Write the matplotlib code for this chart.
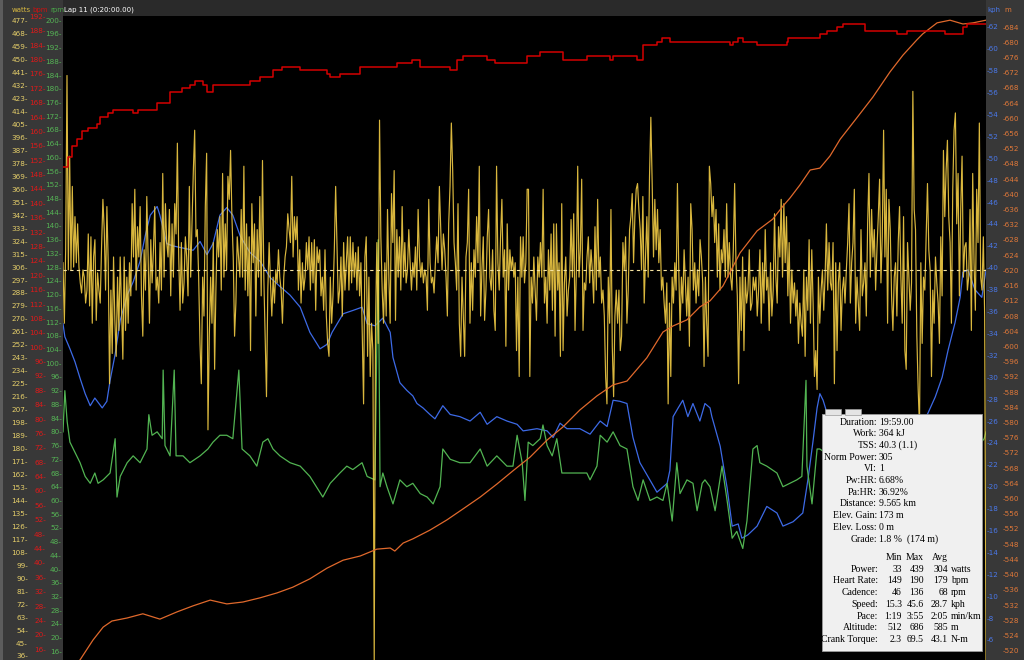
import numpy as np
import matplotlib
matplotlib.use('Agg')
import matplotlib.pyplot as plt
from matplotlib.patches import Rectangle
from matplotlib.ticker import FixedLocator, FuncFormatter

W, H = 1024, 660

# power (watts), one value per sample, evenly spaced over the lap
power = [
    309, 267, 318, 439, 304, 383, 304, 362, 306, 341, 309, 336, 306, 295, 288, 304, 299, 281, 290, 329,
    279, 327, 267, 313, 325, 269, 302, 290, 281, 320, 353, 332, 290, 348, 309, 225, 290, 246, 313, 269,
    244, 299, 262, 313, 276, 242, 313, 262, 299, 267, 309, 286, 350, 313, 360, 290, 334, 313, 348, 286,
    258, 318, 290, 355, 313, 267, 325, 295, 318, 348, 290, 299, 281, 323, 290, 371, 299, 350, 323, 313,
    346, 286, 336, 299, 350, 329, 392, 313, 276, 323, 281, 295, 327, 313, 286, 362, 299, 336, 373, 401,
    327, 332, 299, 253, 225, 299, 272, 348, 385, 193, 258, 299, 267, 323, 235, 292, 332, 313, 341, 290,
    371, 299, 336, 304, 369, 353, 387, 341, 313, 258, 281, 327, 313, 299, 346, 299, 376, 290, 336, 286,
    327, 248, 350, 309, 336, 272, 332, 299, 355, 286, 380, 299, 258, 216, 290, 323, 295, 272, 299, 281,
    304, 295, 318, 299, 290, 267, 299, 313, 320, 343, 332, 323, 369, 313, 341, 325,
    341, 290, 318, 281, 309, 290, 299, 323, 304, 327, 290, 323, 295, 325, 276, 320, 309, 318, 286, 299,
    276, 318, 272, 253, 244, 299, 267, 286, 318, 362, 323, 281, 290, 313, 272, 323, 290, 309, 327, 290,
    327, 295, 323, 299, 316, 290, 320, 286, 309, 258, 211, 313, 327, 244, 299, 230, 267, 248, 33, 267,
    323, 253, 408, 327, 290, 267, 309, 272, 346, 299, 267, 357, 323, 373, 269, 332, 299, 327, 290, 348,
    299, 323, 295, 304, 332, 309, 290, 309, 299, 320, 290, 346, 313, 299, 309, 295, 304, 299, 276, 353,
    309, 295, 299, 288, 309, 327, 309, 362, 332, 304, 329, 318, 299, 272, 336, 362, 406, 373, 323, 309,
    290, 350, 267, 244, 299, 272, 244, 313, 323, 360, 267, 309, 276, 318, 299, 341, 309, 376, 272, 304,
    327, 269, 290, 327, 346, 299, 290, 318, 276, 262, 376, 309, 290, 327, 353, 299, 318, 251, 336, 290,
    318, 304, 313, 299, 309, 248, 299, 230, 327, 299, 327, 295, 309, 360,
    360, 230, 299, 281, 313, 290, 269, 313, 299, 323, 299, 360, 281, 299, 267, 318, 290, 329, 276, 336,
    258, 336, 290, 309, 244, 350, 248, 295, 313, 272, 290, 299, 339, 299, 343, 262, 304, 376, 299, 318,
    367, 262, 295, 290, 313, 327, 295, 318, 304, 281, 334, 290, 353, 299, 313, 281, 290, 272, 230, 211,
    299, 267, 346, 251, 216, 272, 290, 267, 290, 248, 258, 323, 304, 327, 267, 290, 332, 341, 357, 309,
    341, 360, 364, 346, 332, 304, 355, 281, 313, 341, 299, 369, 410, 364, 313, 353, 318, 346, 309, 332,
    290, 299, 281, 267, 295, 211, 281, 230, 299, 281, 309, 290, 364, 304, 262, 299, 281, 318, 295, 272,
    299, 251, 350, 332, 290, 309, 281, 304, 286, 325, 313, 295, 237, 299, 267, 244, 376, 364, 341, 355,
    323, 346, 299, 336, 290, 318, 309, 332, 299, 350, 299, 323, 299, 290, 318, 364, 309, 286, 225, 299,
    262, 313, 248, 299, 281, 290, 318, 276, 281, 299, 290, 299, 272,
    290, 318, 267, 309, 281, 332, 290, 299, 262, 309, 272, 290, 343, 299, 281, 334, 313, 353, 299, 350,
    309, 341, 286, 323, 267, 304, 281, 295, 272, 290, 253, 281, 267, 258, 304, 244, 299, 276, 325, 267,
    318, 281, 230, 248, 221, 299, 267, 290, 304, 276, 299, 336, 290, 323, 295, 290, 323, 225, 309, 248,
    295, 309, 262, 290, 299, 281, 304, 323, 350, 281, 309, 323, 360, 267, 299, 281, 262, 332, 286, 295,
    309, 272, 336, 371, 299, 346, 313, 332, 290, 318, 341, 367, 295, 327, 401, 313, 360, 267, 353, 332,
    286, 262, 299, 309, 272, 323, 348, 299, 267, 341, 248, 235, 323, 299, 276, 295, 428, 346, 332, 258,
    221, 195, 309, 253, 299, 290, 327, 364, 318, 304, 230, 290, 267, 313, 295, 281, 253, 327, 286, 387,
    341, 373, 394, 341, 323, 267, 360, 401, 413, 336, 371, 286, 346, 383, 299, 320, 323, 290, 299, 346,
    262, 371, 309, 276, 360, 323, 406, 299, 290, 327, 272, 33,
]
avg_power = 304

# heart rate (bpm) vs time (min)
hr_t = [0, 0.11, 0.2, 0.3, 0.41, 0.54, 0.74, 0.8, 0.98, 1.08,
        1.5, 1.52, 1.6, 1.63, 1.95, 2.04, 2.1, 2.32, 2.58, 2.75,
        2.86, 3.03, 3.12, 3.25, 3.47, 3.73, 4.05, 4.27, 4.55, 4.75,
        4.92, 5.14, 5.72, 5.79, 6.0, 6.28, 6.44, 7.09, 7.24, 7.56,
        7.74, 8.23, 8.39, 8.54, 8.67, 8.82, 9.1, 9.19, 9.36, 9.84,
        10.05, 10.34, 10.83, 11.27, 11.35, 11.79, 11.85, 11.92, 12.35, 12.44,
        12.57, 12.78, 12.87, 12.98, 13.15, 13.33, 13.43, 13.85, 13.91, 14.02,
        14.45, 14.52, 14.63, 14.73, 15.04, 15.69, 15.71, 15.9, 16.4, 16.55,
        16.68, 16.77, 16.9, 17.27, 17.38, 17.64, 18.07, 18.29, 18.35, 18.79,
        18.96, 19.11, 19.37, 19.5, 19.59, 19.7, 19.76, 20.0]
hr = [150, 153, 156, 158, 160, 161, 162, 164, 165, 166,
      166, 165, 165, 166, 166, 168, 168, 171, 172, 173,
      174, 173, 171, 173, 173, 173, 174, 175, 177, 178,
      178, 177, 176, 175, 176, 176, 178, 178, 179, 180,
      178, 178, 177, 180, 181, 181, 181, 180, 179, 179,
      181, 182, 180, 180, 181, 181, 180, 181, 181, 180,
      184, 184, 185, 186, 185, 185, 185, 185, 185, 185,
      184, 185, 186, 185, 184, 185, 186, 186, 187, 188,
      188, 189, 190, 190, 188, 188, 187, 188, 188, 188,
      188, 187, 187, 189, 190, 190, 190, 190]

# cadence (rpm) vs time (min)
cad_t = [0, 0.04, 0.09, 0.15, 0.26, 0.37, 0.48, 0.59, 0.69, 0.76,
         0.87, 1.02, 1.13, 1.17, 1.24, 1.39, 1.52, 1.67, 1.82, 1.86,
         1.93, 2.04, 2.15, 2.17, 2.21, 2.32, 2.41, 2.45, 2.6, 2.75,
         2.97, 3.14, 3.25, 3.4, 3.55, 3.68, 3.81, 3.88, 4.05, 4.2,
         4.33, 4.44, 4.55, 4.7, 4.92, 5.14, 5.35, 5.63, 5.79, 6.0,
         6.15, 6.28, 6.48, 6.59, 6.76, 6.83, 6.87, 6.93, 7.02, 7.15,
         7.3, 7.45, 7.58, 7.74, 7.89, 8.02, 8.17, 8.23, 8.39, 8.6,
         8.82, 9.04, 9.19, 9.4, 9.62, 9.75, 9.84, 9.95, 10.01, 10.08,
         10.18, 10.34, 10.4, 10.49, 10.6, 10.7, 10.81, 11.05, 11.35, 11.42,
         11.57, 11.64, 11.79, 11.92, 12.07, 12.22, 12.35, 12.46, 12.57, 12.72,
         12.87, 13.0, 13.09, 13.2, 13.3, 13.37, 13.52, 13.65, 13.74, 13.85,
         13.91, 14.02, 14.13, 14.28, 14.39, 14.5, 14.6, 14.73, 14.82, 14.95,
         15.04, 15.1, 15.25, 15.47, 15.6, 15.75, 15.9, 16.01, 16.1, 16.12,
         16.23, 16.34, 16.4, 17.05, 18.14, 19.44, 19.96, 20.0]
cad = [80, 92, 83, 77, 74, 71, 67, 65, 68, 65,
       66, 68, 78, 61, 67, 71, 73, 71, 75, 85,
       79, 80, 78, 98, 76, 73, 98, 73, 73, 71,
       73, 75, 77, 79, 79, 78, 98, 75, 73, 70,
       77, 78, 75, 73, 71, 70, 67, 61, 65, 68,
       70, 69, 71, 67, 66, 136, 64, 68, 64, 59,
       66, 64, 65, 62, 61, 59, 64, 75, 72, 71,
       71, 75, 70, 73, 70, 70, 79, 71, 60, 77,
       76, 78, 82, 76, 73, 78, 68, 68, 68, 66,
       70, 79, 77, 80, 76, 75, 64, 60, 66, 60,
       61, 60, 65, 54, 71, 62, 66, 65, 57, 65,
       66, 64, 57, 70, 60, 49, 51, 46, 54, 75,
       76, 71, 70, 68, 64, 65, 66, 67, 95, 70,
       59, 75, 75, 69, 72, 69, 78, 80]

# speed (kph) vs time (min)
spd_t = [0, 0.04, 0.15, 0.26, 0.37, 0.48, 0.59, 0.69, 0.85, 0.95,
         1.02, 1.13, 1.24, 1.39, 1.52, 1.67, 1.78, 1.89, 2.04, 2.1,
         2.25, 2.38, 2.6, 2.82, 2.97, 3.12, 3.25, 3.4, 3.55, 3.68,
         3.84, 4.05, 4.27, 4.49, 4.7, 4.92, 5.14, 5.35, 5.57, 5.72,
         5.83, 6.07, 6.28, 6.48, 6.59, 6.76, 6.93, 7.09, 7.15, 7.3,
         7.45, 7.58, 7.67, 7.8, 7.95, 8.06, 8.23, 8.39, 8.6, 8.82,
         9.04, 9.19, 9.4, 9.62, 9.84, 9.97, 10.27, 10.49, 10.62, 10.77,
         10.92, 11.2, 11.42, 11.64, 11.79, 11.92, 12.07, 12.22, 12.35, 12.5,
         12.72, 12.87, 13.09, 13.15, 13.22, 13.33, 13.43, 13.54, 13.65, 13.8,
         13.91, 14.02, 14.06, 14.24, 14.39, 14.5, 14.63, 14.71, 14.84, 15.04,
         15.25, 15.47, 15.6, 15.82, 16.03, 16.14, 16.25, 16.34, 16.4, 16.47,
         16.55, 17.05, 17.7, 18.35, 18.74, 18.9, 19.05, 19.18, 19.33, 19.44,
         19.5, 19.61, 19.76, 19.91, 20.0]
spd = [34.9, 33.7, 32.6, 31.4, 29.9, 28.5, 27.4, 28.1, 27.2, 27.8,
       29.7, 32.1, 35.2, 37.5, 38.7, 40.6, 42.9, 44.8, 45.6, 44.8,
       42.2, 42.0, 41.8, 41.6, 42.4, 41.2, 42.2, 44.8, 45.5, 44.8,
       42.9, 41.4, 40.6, 39.1, 38.3, 37.5, 36.4, 34.1, 32.6, 33.0,
       34.1, 35.8, 36.1, 36.4, 34.9, 34.7, 35.4, 34.1, 31.8, 29.5,
       28.8, 28.3, 27.6, 27.2, 26.6, 26.2, 27.4, 26.6, 26.4, 26.0,
       26.8, 25.7, 26.4, 26.0, 25.7, 25.1, 25.3, 25.1, 24.5, 25.8,
       25.3, 25.3, 24.8, 26.0, 25.5, 27.9, 27.8, 27.6, 24.5, 22.2,
       20.6, 19.5, 20.3, 21.5, 26.4, 27.2, 27.9, 26.4, 27.6, 26.0,
       27.6, 27.2, 26.4, 23.7, 19.9, 16.4, 16.6, 15.3, 15.6, 16.4,
       18.2, 17.6, 16.4, 16.8, 17.6, 20.6, 24.1, 27.2, 28.5, 27.9,
       26.8, 23.4, 22.9, 23.7, 26.7, 28.2, 30.0, 32.5, 35.0, 37.3,
       39.6, 39.8, 38.0, 37.3, 39.8]

# altitude (m) vs time (min)
alt_t = [0, 0.37, 0.65, 0.87, 1.06, 1.39, 1.73, 2.1, 2.47, 2.82,
         3.19, 3.55, 3.9, 4.27, 4.64, 4.98, 5.35, 5.72, 6.07, 6.44,
         6.8, 7.09, 7.19, 7.37, 7.58, 7.95, 8.32, 8.67, 9.04, 9.4,
         9.75, 10.12, 10.49, 10.83, 11.2, 11.57, 11.92, 12.22, 12.65, 13.0,
         13.22, 13.52, 13.8, 14.02, 14.3, 14.67, 15.04, 15.38, 15.6, 15.75,
         15.97, 16.19, 16.4, 16.62, 16.84, 17.2, 17.55, 17.92, 18.2, 18.5,
         18.63, 18.94, 19.22, 19.5, 19.72, 20.0]
alt = [512, 517.6, 522.8, 526.2, 527.8, 528.6, 529.7, 528.3, 530.2, 531.8,
       533.3, 532.3, 532.8, 533.9, 535.2, 536.7, 538.9, 541.7, 543.8, 544.9,
       546.7, 547, 546.2, 548.3, 549.4, 551.7, 554.4, 557.3, 560.4, 563.8,
       567.3, 570.9, 575.4, 578.8, 583.3, 587, 589.9, 590.9, 597, 603.8,
       605.4, 607, 610.4, 612, 615.9, 624.6, 630.4, 633.5, 636.9, 639,
       642.5, 646.4, 646.9, 650.1, 654.5, 660.1, 665.6, 672.2, 676.6, 680.6,
       682.2, 685.1, 685.8, 684.8, 685.1, 685.8]

# summary box
stat_labels = ['Duration', 'Work', 'TSS', 'Norm Power', 'VI', 'Pw:HR', 'Pa:HR',
               'Distance', 'Elev. Gain', 'Elev. Loss', 'Grade']
stat_values = ['19:59.00', '364 kJ', '40.3 (1.1)', '305', '1', '6.68%', '36.92%',
               '9.565 km', '173 m', '0 m', '1.8 %  (174 m)']
row_labels = ['Power', 'Heart Rate', 'Cadence', 'Speed', 'Pace', 'Altitude', 'Crank Torque']
row_min = ['33', '149', '46', '15.3', '1:19', '512', '2.3']
row_max = ['439', '190', '136', '45.6', '3:55', '686', '69.5']
row_avg = ['304', '179', '68', '28.7', '2:05', '585', '43.1']
row_unit = ['watts', 'bpm', 'rpm', 'kph', 'min/km', 'm', 'N-m']

C_W = '#f2cc45'
C_BPM = '#d40000'
C_RPM = '#52b452'
C_KPH = '#3d6ae6'
C_M = '#e0692c'


def fx(px):
    return px / W


def fy(py):
    return 1 - py / H


fig = plt.figure(figsize=(W / 100, H / 100), dpi=100, facecolor='#383838')
fig.add_artist(Rectangle((0, 0), fx(3), 1, transform=fig.transFigure,
                         facecolor='#5c5c5c', edgecolor='none'))
fig.add_artist(Rectangle((fx(63), fy(16)), fx(923), 16 / H, transform=fig.transFigure,
                         facecolor='#2a2a2a', edgecolor='none'))

rect = [fx(63), 0, fx(923), 644 / H]
ax_w = fig.add_axes(rect)
ax_bpm = ax_w.twinx()
ax_rpm = ax_w.twinx()
ax_kph = ax_w.twinx()
ax_m = ax_w.twinx()

# stacking: speed at the back (carries the black background), heart rate on top
for a, z in [(ax_kph, 1), (ax_rpm, 2), (ax_w, 3), (ax_m, 4), (ax_bpm, 5)]:
    a.set_zorder(z)
    a.patch.set_visible(False)
ax_kph.patch.set_visible(True)
ax_kph.patch.set_facecolor('black')


def setup(ax, lo, hi, ticks, color, side, offset_px):
    ax.set_xlim(0, 20)
    ax.set_ylim(lo, hi)
    ax.xaxis.set_visible(False)
    for s in ax.spines.values():
        s.set_visible(False)
    ax.yaxis.set_ticks_position(side)
    ax.spines[side].set_position(('outward', offset_px * 0.72))
    ax.yaxis.set_major_locator(FixedLocator(ticks))
    if side == 'left':
        ax.yaxis.set_major_formatter(FuncFormatter(lambda v, p: '%d-' % round(v)))
    else:
        ax.yaxis.set_major_formatter(FuncFormatter(lambda v, p: '-%d' % round(v)))
    ax.tick_params(axis='y', length=0, pad=0, labelsize=5.2, labelcolor=color)


setup(ax_w, 33.2, 480.3, np.arange(36, 478, 9), '#e6cf6a', 'left', 35)
setup(ax_bpm, 13.0, 192.1, np.arange(16, 193, 4), '#dd1a1a', 'left', 17)
setup(ax_rpm, 13.5, 201.2, np.arange(16, 201, 4), '#55b455', 'left', 1)
setup(ax_kph, 4.17, 63.0, np.arange(6, 63, 2), '#4a78ea', 'right', 1)
setup(ax_m, 517.55, 686.9, np.arange(520, 685, 4), '#e07838', 'right', 17)

t_power = np.linspace(0, 20, len(power))
ax_kph.plot(spd_t, spd, color=C_KPH, lw=0.9)
ax_rpm.plot(cad_t, cad, color=C_RPM, lw=0.9)
ax_w.plot(t_power, power, color=C_W, lw=0.85, alpha=0.9)
ax_w.axhline(avg_power, color='#f5e3a0', lw=0.8, ls=(0, (3, 3)))
ax_m.plot(alt_t, alt, color=C_M, lw=0.9)
ax_bpm.plot(hr_t, hr, color=C_BPM, lw=1.1, drawstyle='steps-post')

# header texts
fig.text(fx(12), fy(10), 'watts', color='#d9b941', fontsize=5, va='center')
fig.text(fx(32), fy(10), 'bpm', color='#cc1111', fontsize=5, va='center')
fig.text(fx(50), fy(10), 'rpm', color='#4aa84a', fontsize=5, va='center')
fig.text(fx(64), fy(10), 'Lap 11 (0:20:00.00)', color='white', fontsize=5, va='center')
fig.text(fx(987), fy(10), 'kph', color='#4a78ea', fontsize=5, va='center')
fig.text(fx(1004), fy(10), 'm', color='#e07838', fontsize=5, va='center')

# summary box
box_z = 20
fig.add_artist(Rectangle((fx(822), fy(651)), fx(160), 237 / H, transform=fig.transFigure,
                         facecolor='#f0f0f0', edgecolor='#9a9a9a', lw=0.6, zorder=box_z))
for x0 in (825, 845):
    fig.add_artist(Rectangle((fx(x0), fy(415)), fx(16), 6 / H, transform=fig.transFigure,
                             facecolor='#e4e4e4', edgecolor='#9a9a9a', lw=0.5, zorder=box_z))

tk = dict(fontsize=7, family='Liberation Serif', color='black', va='center', zorder=box_z + 1)
for i, (lab, val) in enumerate(zip(stat_labels, stat_values)):
    yy = fy(422.3 + i * 11.67)
    fig.text(fx(877), yy, lab + ':', ha='right', **tk)
    fig.text(fx(879), yy, val, ha='left', **tk)

fig.text(fx(902), fy(557.7), 'Min', ha='right', **tk)
fig.text(fx(924), fy(557.7), 'Max', ha='right', **tk)
fig.text(fx(948), fy(557.7), 'Avg', ha='right', **tk)
for i in range(len(row_labels)):
    yy = fy(569 + i * 11.8)
    fig.text(fx(878), yy, row_labels[i] + ':', ha='right', **tk)
    fig.text(fx(902), yy, row_min[i], ha='right', **tk)
    fig.text(fx(924), yy, row_max[i], ha='right', **tk)
    fig.text(fx(948), yy, row_avg[i], ha='right', **tk)
    fig.text(fx(951), yy, row_unit[i], ha='left', **tk)

fig.savefig('out.png', dpi=100, facecolor=fig.get_facecolor())
